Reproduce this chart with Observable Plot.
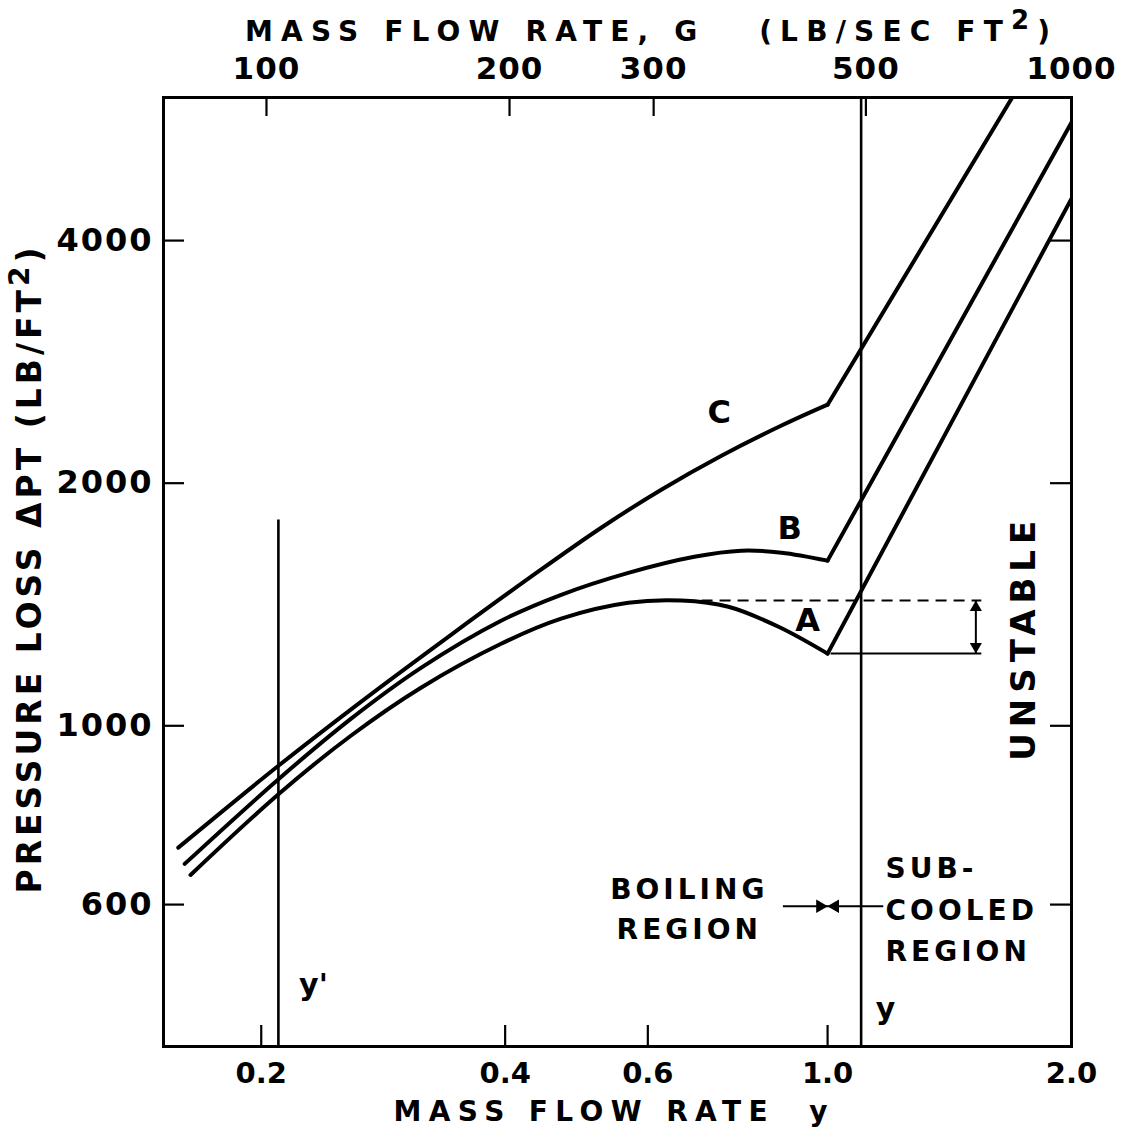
<!DOCTYPE html>
<html><head><meta charset="utf-8">
<script src="https://cdn.jsdelivr.net/npm/d3@7"></script>
<script src="https://cdn.jsdelivr.net/npm/@observablehq/plot@0.6"></script>
<style>html,body{margin:0;padding:0;background:#fff} svg{display:block}</style>
</head><body><div id="chart"></div>
<script>
// ---- axis ticks ----
const bottomTicks = [0.2, 0.4, 0.6, 1.0, 2.0];
const bottomTickLabels = ["0.2", "0.4", "0.6", "1.0", "2.0"];
const topTickPos = [0.203, 0.405, 0.61, 1.115, 2.0];
const topTickLabels = ["100", "200", "300", "500", "1000"];
const leftTicks = [600, 1000, 2000, 4000];

// ---- curves (boiling region, smooth) ----
const cX = [0.158, 0.21, 0.2655, 0.343, 0.4306, 0.5255, 0.6234, 0.7396, 0.8773, 1.0];
const cY = [706, 892, 1071, 1297, 1531, 1761, 1963, 2163, 2358, 2503];
const bX = [0.1609, 0.2102, 0.258, 0.3149, 0.3954, 0.469, 0.5676, 0.6848, 0.7827, 0.8773, 1.0];
const bY = [674, 859, 1020, 1180, 1350, 1454, 1548, 1621, 1649, 1640, 1603];
const aX = [0.1636, 0.2102, 0.258, 0.3149, 0.3954, 0.469, 0.5676, 0.6601, 0.7543, 0.8699, 1.0];
const aY = [653, 823, 972, 1115, 1264, 1358, 1421, 1430, 1405, 1327, 1229];
// ---- curves (sub-cooled region, straight) ----
const cSubX = [1.0, 1.69];  const cSubY = [2503, 6020];
const bSubX = [1.0, 2.0];   const bSubY = [1603, 5605];
const aSubX = [1.0, 2.0];   const aSubY = [1229, 4510];

// ---- reference lines ----
const markerX = [0.21, 1.10];
const markerLow = [400, 400];
const markerHigh = [1800, 6020];
const unstableX1 = [0.70, 1.01];
const unstableX2 = 1.55;
const unstableArrowX = 1.524;
const regionArrowY = 597;
const regionArrowFrom = [0.882, 1.173];
const regionArrowTo = 1.0;

// ---- labels ----
const curveLabels = ["C", "B", "A"];
const curveLabelX = [0.735, 0.898, 0.945];
const curveLabelY = [2447, 1756, 1350];
const lineLabels = ["y'", "y"];
const lineLabelX = [0.232, 1.179];
const lineLabelY = [476, 445];

function rows(series, part, xs, ys) { return xs.map((x, i) => ({series, part, x, y: ys[i]})); }
const curveRows = [
  ...rows("C", "boil", cX, cY), ...rows("C", "sub", cSubX, cSubY),
  ...rows("B", "boil", bX, bY), ...rows("B", "sub", bSubX, bSubY),
  ...rows("A", "boil", aX, aY), ...rows("A", "sub", aSubX, aSubY)
];
const peakA = d3.max(aY);
const kinkA = aY[aY.length - 1];

const W = 1126, H = 1144, mL = 163, mR = 55, mT = 97, mB = 98;
const fw = W - mL - mR, fh = H - mT - mB;
const bottomMap = new Map(bottomTicks.map((d, i) => [d, bottomTickLabels[i]]));
const topMap = new Map(topTickPos.map((d, i) => [d, topTickLabels[i]]));
const tag = name => () => name;
const FW = "bold";

const plot = Plot.plot({
  width: W, height: H,
  marginLeft: mL, marginRight: mR, marginTop: mT, marginBottom: mB,
  style: {fontFamily: "'DejaVu Sans', sans-serif", background: "white", color: "black"},
  x: {type: "log", domain: [0.1515, 2.0]},
  y: {type: "log", domain: [400, 6020]},
  marks: [
    Plot.frame({strokeWidth: 3}),
    // inward ticks
    Plot.ruleX(bottomTicks, {x: d => d, insetTop: fh - 21, strokeWidth: 2.2}),
    Plot.ruleX(topTickPos, {x: d => d, insetBottom: fh - 19, strokeWidth: 2.2}),
    Plot.ruleY(leftTicks, {y: d => d, insetRight: fw - 21, strokeWidth: 2.2}),
    Plot.ruleY(leftTicks, {y: d => d, insetLeft: fw - 21, strokeWidth: 2.2}),
    // tick labels
    Plot.axisY(leftTicks, {anchor: "left", tickSize: 0, tickPadding: 10, tickFormat: d => String(d), fontSize: 32, fontWeight: FW, label: null}),
    Plot.axisX(bottomTicks, {anchor: "bottom", tickSize: 0, tickPadding: 16, tickFormat: d => bottomMap.get(d), fontSize: 29, fontWeight: FW, label: null}),
    Plot.axisX(topTickPos, {anchor: "top", tickSize: 0, tickPadding: 19, tickFormat: d => topMap.get(d), fontSize: 31, fontWeight: FW, label: null}),
    // vertical lines y' and y
    Plot.ruleX(markerX, {x: d => d, y1: (d, i) => markerLow[i], y2: (d, i) => markerHigh[i], strokeWidth: 2.6}),
    // unstable band
    Plot.ruleY([peakA], {x1: unstableX1[0], x2: unstableX2, strokeWidth: 2, strokeDasharray: "11,7"}),
    Plot.ruleY([kinkA], {x1: unstableX1[1], x2: unstableX2, strokeWidth: 2}),
    Plot.ruleX([unstableArrowX], {y1: kinkA, y2: peakA, strokeWidth: 2}),
    Plot.dot([peakA], {x: unstableArrowX, y: d => d, symbol: "triangle", rotate: 0, r: 4.5, fill: "black", stroke: "none", dy: 7}),
    Plot.dot([kinkA], {x: unstableArrowX, y: d => d, symbol: "triangle", rotate: 180, r: 4.5, fill: "black", stroke: "none", dy: -7}),
    // boiling / sub-cooled arrows
    Plot.ruleY([regionArrowY], {x1: regionArrowFrom[0], x2: regionArrowFrom[1], strokeWidth: 2}),
    Plot.dot([regionArrowTo], {x: d => d, y: regionArrowY, symbol: "triangle", rotate: 90, r: 5, fill: "black", stroke: "none", dx: -7.5}),
    Plot.dot([regionArrowTo], {x: d => d, y: regionArrowY, symbol: "triangle", rotate: -90, r: 5, fill: "black", stroke: "none", dx: 7.5}),
    // curves
    Plot.line(curveRows, {x: "x", y: "y", z: d => d.series + d.part, curve: "catmull-rom", stroke: "black", strokeWidth: 4, strokeLinecap: "round", strokeLinejoin: "round", clip: true}),
    // labels
    Plot.text(curveLabels, {x: (d, i) => curveLabelX[i], y: (d, i) => curveLabelY[i], fontSize: 32, fontWeight: FW}),
    Plot.text(lineLabels, {x: (d, i) => lineLabelX[i], y: (d, i) => lineLabelY[i], fontSize: 30, fontWeight: FW}),
    Plot.text(["BOILING\nREGION"], {x: 0.675, y: regionArrowY, fontSize: 28, fontWeight: FW, lineHeight: 1.43, ariaLabel: tag("annot")}),
    Plot.text(["SUB-\nCOOLED\nREGION"], {x: 1.179, y: regionArrowY, textAnchor: "start", fontSize: 28, fontWeight: FW, lineHeight: 1.48, ariaLabel: tag("annot")}),
    Plot.text(["UNSTABLE"], {x: 1.747, y: 1275, rotate: -90, fontSize: 34, fontWeight: FW, ariaLabel: tag("unstable")}),
    // axis titles
    Plot.text(["MASS FLOW RATE, G"], {frameAnchor: "top", textAnchor: "middle", dx: 30, dy: -65, fontSize: 28, fontWeight: FW, lineAnchor: "middle", ariaLabel: tag("top-title")}),
    Plot.text(["MASS FLOW RATE y"], {frameAnchor: "bottom", textAnchor: "middle", dx: -7, dy: 66, fontSize: 28, fontWeight: FW, lineAnchor: "middle", ariaLabel: tag("bottom-title")}),
    Plot.text(["PRESSURE LOSS"], {frameAnchor: "left", textAnchor: "middle", dx: -133, dy: -1.5, rotate: -90, fontSize: 33, fontWeight: FW, lineAnchor: "middle", ariaLabel: tag("left-title")})
  ]
});

const s = d3.select(plot);
s.select('text[aria-label="top-title"]')
  .html('MASS FLOW RATE, G\u00a0\u00a0\u00a0(LB/SEC FT<tspan dy="-12" font-size="26">2</tspan><tspan dy="12">)</tspan>')
  .attr("textLength", 805).attr("lengthAdjust", "spacing");
s.select('text[aria-label="bottom-title"]')
  .html('MASS FLOW RATE\u00a0\u00a0y')
  .attr("textLength", 434).attr("lengthAdjust", "spacing");
s.select('text[aria-label="left-title"]')
  .html('PRESSURE LOSS \u0394PT (LB/FT<tspan dy="-12" font-size="28">2</tspan><tspan dy="12">)</tspan>')
  .attr("textLength", 646).attr("lengthAdjust", "spacing");
s.select('text[aria-label="unstable"]').attr("textLength", 240).attr("lengthAdjust", "spacing");
s.selectAll('text[aria-label="annot"]').style("letter-spacing", "4px");
s.selectAll('g[aria-label="y-axis tick label"]').style("letter-spacing", "2px");
const xl = s.selectAll('g[aria-label="x-axis tick label"]').nodes();
if (xl[0]) d3.select(xl[0]).style("letter-spacing", "0px");
if (xl[1]) d3.select(xl[1]).style("letter-spacing", "1px");

document.getElementById("chart").appendChild(plot);
</script>
</body></html>
